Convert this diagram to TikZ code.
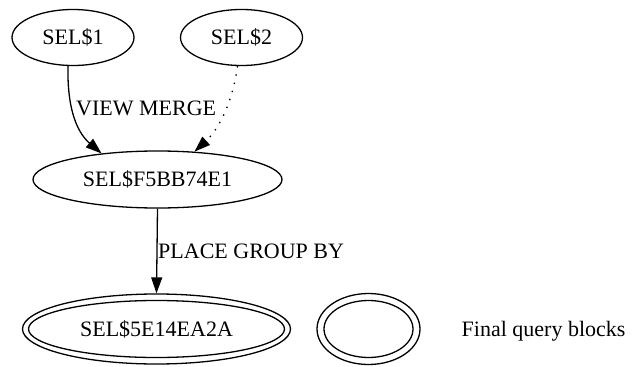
\documentclass[tikz,border=0pt]{standalone}
\usepackage{fontspec}
\setmainfont{Liberation Serif}
\usetikzlibrary{shapes.geometric,arrows.meta}
\tikzset{
  gvfont/.style={font=\fontsize{22}{26}\selectfont},
  blk/.style={ellipse, draw, line width=1.3pt, inner sep=0pt, gvfont},
  lbl/.style={inner sep=0pt, gvfont},
  edge/.style={line width=1.3pt, -{Triangle[length=16pt,width=11pt]}},
  dotedge/.style={edge, dash pattern=on 1.4pt off 7pt},
}
\begin{document}
\begin{tikzpicture}[x=1pt,y=-1pt]
\useasboundingbox (0,0) rectangle (641,367);
% top row
\node[blk, minimum width=122pt, minimum height=56pt] (s1) at (73,37.5) {SEL\$1};
\node[blk, minimum width=122pt, minimum height=56pt] (s2) at (241.5,37.5) {SEL\$2};
% middle
\node[blk, minimum width=249pt, minimum height=57pt] (f) at (157.5,179.5) {SEL\$F5BB74E1};
% bottom: final query block (double periphery)
\node[blk, minimum width=268pt, minimum height=70pt] (gout) at (156.5,329) {};
\node[blk, minimum width=256pt, minimum height=57pt] (g) at (156.5,329) {SEL\$5E14EA2A};
% legend
\node[blk, minimum width=103pt, minimum height=71pt] (kout) at (368.5,329) {};
\node[blk, minimum width=89pt, minimum height=57pt] (k) at (368.5,329) {};
\node[lbl, anchor=base west] (legend) at (461.5,336) {Final query blocks};
% edge labels
\node[lbl, anchor=base west] (vm) at (76,115) {VIEW MERGE};
\node[lbl, anchor=base west] (pg) at (158,258) {PLACE GROUP BY};
% edges
\draw[edge] (s1.260) .. controls (67,115) and (80,135) .. (f.155);
\draw[dotedge] (s2.262) .. controls (233,100) and (220,128) .. (f.37);
\draw[edge] (f.south) -- (gout.north);
\end{tikzpicture}
\end{document}
